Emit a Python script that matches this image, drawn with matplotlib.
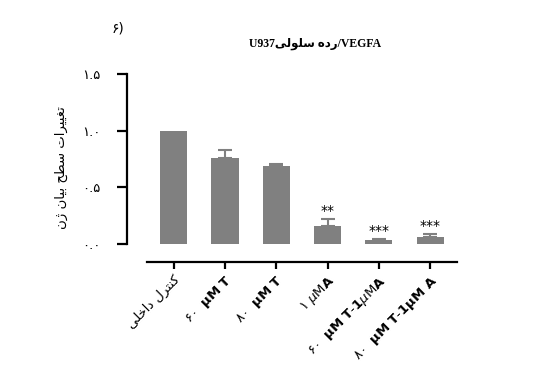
import numpy as np
import matplotlib.pyplot as plt

# tiny Persian shaper: (isolated, final, initial, medial); 2-tuples don't join left
FORMS = {
    "ک": ("\uFB8E", "\uFB8F", "\uFB90", "\uFB91"),
    "ن": ("\uFEE5", "\uFEE6", "\uFEE7", "\uFEE8"),
    "ت": ("\uFE95", "\uFE96", "\uFE97", "\uFE98"),
    "ر": ("\uFEAD", "\uFEAE"),
    "ل": ("\uFEDD", "\uFEDE", "\uFEDF", "\uFEE0"),
    "د": ("\uFEA9", "\uFEAA"),
    "ا": ("\uFE8D", "\uFE8E"),
    "خ": ("\uFEA5", "\uFEA6", "\uFEA7", "\uFEA8"),
    "ی": ("\uFBFC", "\uFBFD", "\uFBFE", "\uFBFF"),
    "ه": ("\uFEE9", "\uFEEA", "\uFEEB", "\uFEEC"),
    "س": ("\uFEB1", "\uFEB2", "\uFEB3", "\uFEB4"),
    "و": ("\uFEED", "\uFEEE"),
    "غ": ("\uFECD", "\uFECE", "\uFECF", "\uFED0"),
    "ط": ("\uFEC1", "\uFEC2", "\uFEC3", "\uFEC4"),
    "ح": ("\uFEA1", "\uFEA2", "\uFEA3", "\uFEA4"),
    "ب": ("\uFE8F", "\uFE90", "\uFE91", "\uFE92"),
    "ژ": ("\uFB8A", "\uFB8B"),
}


def fa(s):
    out = []
    for i, c in enumerate(s):
        if c not in FORMS:
            out.append(c)
            continue
        prev = s[i - 1] if i > 0 else ""
        nxt = s[i + 1] if i + 1 < len(s) else ""
        jp = prev in FORMS and len(FORMS[prev]) == 4
        jn = len(FORMS[c]) == 4 and nxt in FORMS
        f = FORMS[c]
        if jp and jn:
            out.append(f[3])
        elif jp:
            out.append(f[1])
        elif jn:
            out.append(f[2])
        else:
            out.append(f[0])
    return "".join(out[::-1])


labels = [
    fa("کنترل داخلی"),
    "۶۰  $\\mathbf{\\mu M\\ T}$",
    "۸۰  $\\mathbf{\\mu M\\ T}$",
    "۱ $\\mu$M$\\mathbf{A}$",
    "۶۰  $\\mathbf{\\mu M\\ T\\text{-}1}$$\\mu$M$\\mathbf{A}$",
    "۸۰  $\\mathbf{\\mu M\\ T\\text{-}1\\mu M\\ A}$",
]
means = [1.0, 0.76, 0.686, 0.154, 0.037, 0.06]
sd = [0.0, 0.066, 0.017, 0.061, 0.009, 0.023]
stars = ["", "", "", "**", "***", "***"]

plt.rcParams["font.family"] = ["DejaVu Sans"]
gray = "#808080"

fig = plt.figure(figsize=(5.4, 3.83), dpi=100)
ax = fig.add_axes([0.235, 0.316, 0.611, 0.491])
x = np.arange(len(means))
ax.bar(x, means, width=0.53, color=gray, zorder=2)
has_err = np.array(sd) > 0
ax.errorbar(x[has_err], np.array(means)[has_err],
            yerr=[np.zeros(has_err.sum()), np.array(sd)[has_err]], fmt="none",
            ecolor=gray, elinewidth=1.5, capsize=5, capthick=1.5, zorder=1)
for xi, m, s, st in zip(x, means, sd, stars):
    if st:
        ax.text(xi, m + s + 0.01, st, ha="center", va="bottom", fontsize=10)

ax.set_xlim(-0.91, 5.52)
ax.set_ylim(-0.16, 1.5)
for side in ["top", "right"]:
    ax.spines[side].set_visible(False)
ax.spines["left"].set_bounds(0, 1.5)
ax.spines["bottom"].set_bounds(-0.52, 5.52)
ax.spines["left"].set_linewidth(1.6)
ax.spines["bottom"].set_linewidth(1.6)

ax.set_yticks([0, 0.5, 1.0, 1.5])
ax.set_yticklabels(["۰.۰", "۰.۵", "۱.۰", "۱.۵"], fontsize=9.5)
ax.tick_params(axis="y", length=7, width=1.6, pad=12)
ax.set_xticks(x)
ax.set_xticklabels(labels, rotation=45, ha="right", rotation_mode="anchor",
                   fontsize=9.5)
ax.tick_params(axis="x", length=5, width=1.6, pad=3)

ax.set_ylabel(fa("تغییرات سطح بیان ژن"), fontsize=9.5, labelpad=10)

fig.text(0.583, 0.885, "U937" + fa("رده سلولی") + "/VEGFA", ha="center",
         va="center", fontsize=8.5, fontweight="bold",
         family=["Liberation Serif", "DejaVu Sans"])
fig.text(0.218, 0.925, "۶)", ha="center", va="center", fontsize=10)

fig.savefig("out.png", dpi=100)
